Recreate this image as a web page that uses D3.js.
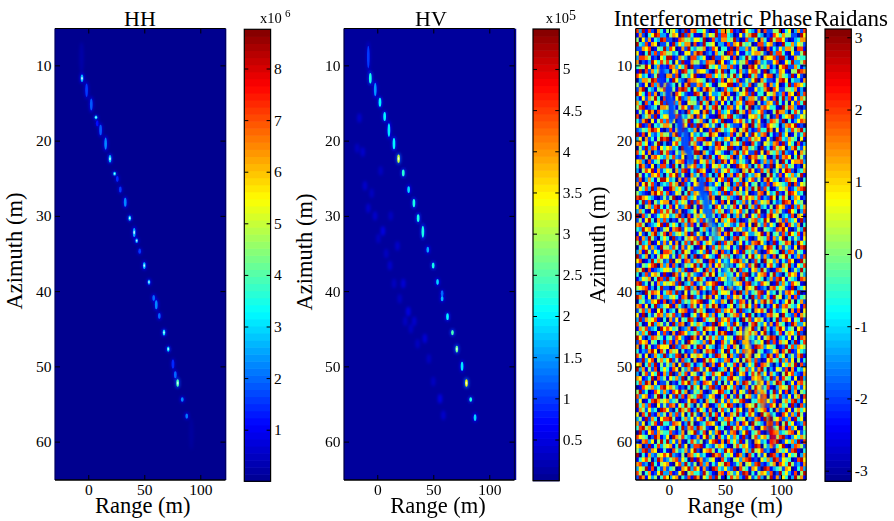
<!DOCTYPE html>
<html>
<head>
<meta charset="utf-8">
<script src="https://cdnjs.cloudflare.com/ajax/libs/d3/7.8.5/d3.min.js"></script>
<style>
html, body { margin: 0; padding: 0; background: #fff; }
text { font-family: "Liberation Serif", "Times New Roman", serif; fill: #000; }
</style>
</head>
<body>
<div id="chart"></div>
<script>
var rangeTicks = [0, 50, 100];
var azimuthTicks = [10, 20, 30, 40, 50, 60];
var rangeDomain = [-29.7, 122.5];
var azimuthDomain = [5.1, 65.1];

// HH point targets (power in x10^6, extent in m of azimuth)
var hhRange = [-6, -5.6, -1.5, 2.7, 6.9, 8, 11, 15.5, 19.4, 23.5, 25.9, 28.6, 33, 37, 41, 43.2, 45.9, 50, 54.2, 58.4, 60.7, 63.4, 67.6, 71.4, 75.6, 77.7, 79.8, 83.9, 87.9, 92];
var hhAzimuth = [9, 11.7, 13.3, 15.2, 16.9, 17.7, 18.6, 20.4, 22.4, 24.4, 25.1, 26.5, 28.2, 30.3, 32.2, 33.3, 34.7, 36.6, 38.8, 40.9, 41.8, 43.3, 45.5, 47.7, 49.7, 51.1, 52.2, 54.4, 56.6, 59];
var hhPower = [0.8, 2.7, 1.6, 1.9, 2.9, 1.2, 1.9, 2.3, 2.8, 2.9, 1.5, 1.6, 2.3, 2.8, 2.5, 2.6, 1.6, 2.7, 2.5, 2, 2.2, 2, 3, 2.9, 1.4, 2, 3.9, 2.2, 2.1, 0.5];
var hhExtent = [3, 1, 1.8, 1.6, 0.5, 0.8, 1.4, 1.6, 1, 0.5, 0.8, 0.8, 1.2, 0.7, 1.2, 0.6, 0.7, 0.9, 0.7, 0.8, 1.2, 0.8, 0.8, 0.7, 1.2, 0.9, 1, 0.6, 0.7, 3];

// HV point targets, same reading (power in x10^5)
var hvRange = [-8, -6.2, -1.8, 2.4, 6.6, 10.4, 14.9, 19, 23.2, 28, 32.7, 36.5, 40.7, 45.1, 49.9, 53.8, 57.9, 57.9, 62.7, 67.1, 71, 75.7, 79.6, 83.4, 87.3];
var hvAzimuth = [8.9, 11.7, 13.2, 14.9, 16.8, 18.6, 20.4, 22.4, 24.3, 26.5, 28.3, 30.3, 32.1, 34.5, 36.6, 38.8, 40.3, 41, 43.4, 45.5, 47.7, 50, 52.2, 54.4, 56.8];
var hvPower = [1, 2.2, 1.5, 2, 2, 1.9, 2, 3.1, 2.3, 1.8, 2.2, 2.2, 2.2, 1.6, 2.2, 1.8, 1.2, 1.7, 2, 2.4, 2.6, 1.9, 3.4, 2.2, 1.8];
var hvExtent = [3, 1.4, 1.8, 1.2, 1.2, 1.8, 1.5, 1.1, 0.9, 0.9, 1.1, 1, 1.6, 0.8, 0.8, 0.8, 0.8, 0.7, 0.9, 0.7, 0.9, 1.2, 1, 0.6, 0.9];
// the faint band left of the HV target line
var hvFaintRange = [-16, -13, -11, -8, -5, -2, 1, 5, 8, 11.3, 15, 18, 20, 23.2, 25, 27.7, 30, 33, 36, 42.5, 46, 50, 56, 59, 12, -18, 3];
var hvFaintAzimuth = [17, 21.5, 26, 29, 27, 30, 33, 32, 35, 36.6, 39, 34, 41, 39, 44, 42.7, 45, 44, 47, 46.3, 49, 52, 54.3, 56.5, 30, 21, 24];
var hvFaintPower = [0.45, 0.5, 0.45, 0.5, 0.4, 0.5, 0.4, 0.6, 0.4, 0.5, 0.4, 0.45, 0.4, 0.55, 0.4, 0.6, 0.4, 0.5, 0.4, 0.55, 0.4, 0.4, 0.6, 0.45, 0.4, 0.4, 0.35];

// phase along the target line in the interferogram (radians)
var streakRange = [-6.5, -0.6, 2.4, 9.8, 15.2, 18.8, 29.2, 33, 36.6, 41, 51.5, 54.5, 69.4, 70.5, 81, 84, 90, 92.9];
var streakAzimuth = [11.5, 13.7, 15.9, 18, 20, 22, 26.1, 28.3, 30.3, 32.3, 36.6, 38.6, 46, 47.9, 52.3, 54.6, 57.6, 59.4];
var streakPhase = [-2.1, -2, -1.9, -2, -1.9, -1.8, -1.9, -1.7, -1.4, -1.2, -0.9, -0.8, 0.9, 1, 1.1, 1.6, 2.7, 2.3];
var streakExtent = [2.6, 2.6, 3, 2.6, 3, 2.2, 2.6, 2.6, 2.4, 2.2, 2.2, 2.2, 2.2, 2.2, 2.2, 2.2, 2.2, 2.2];

// interferogram speckle: typed by hand to give the look of the texture, not read
// cell by cell from the picture. Each digit is an index into phaseLevels.
var phaseLevels = [-3, -2.4, -1.9, -1.3, -0.6, 0.1, 0.8, 1.4, 2, 2.8];
var phaseRows = [
"83918207415563029178446201937758120964317082255914603728",
"17204698331576092841107365928843016257994302186475522096",
"50627143982201875536649018327745920183360741958862013477",
"94381760225193647708129456033182769545018836720194473652",
"22768015493860172943557128604419083372651908142637750881",
"61049382875534016627980231745098261143677520938841062259",
"38875120649912753088346109227651803495214076682993017544",
"70213964858406291175523877096124635581097342268016493358",
"45596037121873648092210954637738215008962547130689227413",
"19082746533067198452766310859204417326885190342761055987",
"86341259007728045369101883647525936019472168803754291620",
"03775982414196320877654029138067481253690742215896043317",
"52160837968340517922783641056699127348025581736014928764",
"27904315682251898406317975202843760591163479086225547130",
"96418270353708642119850263347971035682914406572381760938",
"31627594080516923744038186259625148037752963180493816275",
"74083165929283710655294703816140376298805137629415062849",
"58912340776041586293361748950387264159032786441095873102",
"15269708433975120846607925183462095718346820159773048526",
"80357291466128943570826311097589432016674935028146792365",
"42790615838360275914572048639011768524936103875290413687",
"69128043577504386192917635204853221680947218654037869120",
"23547986102816590437060182975346805793128449706125385794",
"91806324755279148063424597610238157062963780412936015248",
"36072415989035726184889105243761490328576116209843754061",
"78461259030168423957215763980427563910842065378192640813",
"05293871646734092518641032786599120784530924185760379426",
"84617032958215376849907421653103794862291608547393216075",
"12950786437483260915370294186548026319785461039278604952",
"67308245195026781439165837029716835420691373825094167783",
"49721603883194052768324916574250197683048512906738451206",
"30586917246507389142976103825684320759612847035169820347",
"95142768304869251073518240396037185924376005942816473591",
"28037415996340718256043975168291547036825179634028756104",
"71695820343857092416789132640570382961450328176543908265",
"06483927511974630582207854319642806173959284013657124789",
"53210796848126504937650183472918475360127806349215986340",
"89764310252590178346231697005473219586748132960485037612",
"14928053677038465192854726318060943725183657042398716450",
"62057389414816237905197340862535816094729341508672193847",
"37410692858592701346063918475127468350296004837521964038",
"90835124676347920815746205139840372591648217965034280761",
"25169407383021584976382591607468930125783496015728346192",
"78502346919464037281519872043653248716095382640971853704",
"43967180256178926450047316985109576324861054328796102539",
"16204793580835647192630425871794120863356917045283964817",
"81739520464092315768279158346203895471026548173690425316",
"59348016272617048395814763092857036142789630291458703964",
"04862731955385172640196028473561429087513269840725316089",
"37195264088740396512463915708230681945372018654093872541",
"92470315866251847039028643195784023516946273180569413728",
"68013947523906518724751089362416897350284095637142860195",
"21546890737183025469394271685903146728590316842075931648",
"75908123466524739108640837152269508341673952018746025394",
"40382675191097264853218596043735162890426781593204867153",
"13657049829348150726974120386518730942156403728961543087",
"89240517365672903481352768910420567189342865019374286510",
"56781304922015648937086349257198234076591230784652190346",
"32095876147839206154713028946651809372458916340527863901",
"97416025833564187092425971630382675140938247195603718245",
"04523769180281935476890146327509428715063795824136950472",
"78160492356917420385163859702146037596281403169278543618",
"25837106941340678129574012983768519234076851942365071806",
"61904258737582391046296837145035782619403127856094328175",
"39275681040726154983018465927683140958267513049278615492",
"84016937525193870264753129086472963015894362718540297336",
"17582340968645023719349768501258407136925084137962450681",
"53749016282071986345826031497910356248571693024815763920",
"96203875414528631097160584732645198073426157980342615087",
"28671540393817240965437296018536902781354609281756039148",
"70495128666092387514981643027481750362198736540129483765",
"41327960851756041238205879136094263817905412367085912643",
"85160274392438907165763142985607329148056239718460352791",
"12936805746925183407019586423781460597382016854937260514",
"67048391525370629841348027196254817036491875203164759082",
"93715280464186053729852691034706195483627940316528071436",
"30582649173902748165207438569138026714859361742059683217",
"76124908351647390528946105273489653201768034927185416093",
"48397061225021486937318762940526173985240617359840261785",
"01865734896753120494605389217964820371596248103765938426",
"59240186373186947025471025698340716529083751492618037054",
"83671259040629381754892367104815294067326180574932615708",
"26014897567345012698130745926273658910447926381057489316",
"94738106252871649530526801374698203176594312860745192083",
"17526340986204975813964172058351486027935681407239615746",
"60849217351738260495207394816027593148620957341086273951",
"35192740688951047362681520943786145603278194056823719460",
"72603581944287613950134876205493271860954316728059461238",
"48957016321560492783975210634019586324710683245971836015",
"09316827544821370569248063791527803691458102967345780624",
"86540297136097584312716935084263741920583674015892136475",
"21783605949362710485350268917084639152076341859026473918",
"67029148356714926038891432576310584762198053724691038752",
"53892760141085347269206785143968201473956823107546289104",
"90417325686932150874634109782546197308415260983171645037",
"14685039723578264091972356108420563789120647398265401896",
"78230941567106839425083714265981247056389213570864952317",
"36591804272450176938617209843632908541762098134527601483",
"85047126933812690574429531078175362980415763802946318059",
"29716350486367042819706482951048573196248305917264039571"
];

var jetColor = d3.scaleLinear()
	.domain([0, 1/8, 3/8, 5/8, 7/8, 1])
	.range(["#00008f", "#0000ff", "#00ffff", "#ffff00", "#ff0000", "#800000"]);
var jetLevels = 64;

var hhBarTicks = [1, 2, 3, 4, 5, 6, 7, 8];
var hvBarTicks = [0.5, 1, 1.5, 2, 2.5, 3, 3.5, 4, 4.5, 5];
var phaseBarTicks = [-3, -2, -1, 0, 1, 2, 3];

var svg = d3.select("#chart").append("svg")
	.attr("width", 894)
	.attr("height", 521)
	.style("display", "block");

var defs = svg.append("defs");
[["blur-wide", 1.8], ["blur-core", 0.7], ["blur-pale", 0.4], ["blur-noise", 0.6], ["blur-streak", 0.8]].forEach(function(b){
	defs.append("filter").attr("id", b[0])
		.attr("x", "-50%").attr("y", "-50%").attr("width", "200%").attr("height", "200%")
		.append("feGaussianBlur").attr("stdDeviation", b[1]);
});

function colorFor(domain){
	var t = d3.scaleLinear().domain(domain).range([0, 1]).clamp(true);
	return function(v){
		var level = Math.min(jetLevels - 1, Math.floor(t(v) * jetLevels));
		return jetColor((level + 0.5) / jetLevels);
	};
}

function makePanel(opt){
	var x = d3.scaleLinear().domain(rangeDomain).range([opt.left, opt.left + 170.5]);
	var y = d3.scaleLinear().domain(azimuthDomain).range([28.5, 480]);
	var clipId = opt.id + "-clip";
	defs.append("clipPath").attr("id", clipId).append("rect")
		.attr("x", opt.left).attr("y", 28.5)
		.attr("width", 170.5 + opt.bleed).attr("height", 451.5);

	var g = svg.append("g").attr("class", opt.id);
	var image = g.append("g").attr("clip-path", "url(#" + clipId + ")");
	image.append("rect")
		.attr("x", opt.left).attr("y", 28.5)
		.attr("width", 170.5 + opt.bleed).attr("height", 451.5)
		.attr("fill", opt.background);
	return {x: x, y: y, g: g, image: image};
}

function finishPanel(p, opt){
	var g = p.g, x = p.x, y = p.y;
	var left = x.range()[0], right = x.range()[1];

	g.append("line").attr("x1", left).attr("x2", left).attr("y1", 28.5).attr("y2", 480)
		.attr("stroke", opt.side).attr("stroke-width", 1.2);
	g.append("line").attr("x1", right).attr("x2", right).attr("y1", 28.5).attr("y2", 480)
		.attr("stroke", opt.side).attr("stroke-width", 1.2);
	g.append("line").attr("x1", left).attr("x2", right).attr("y1", 28.5).attr("y2", 28.5)
		.attr("stroke", "#000").attr("stroke-width", 1.2);
	g.append("line").attr("x1", left).attr("x2", right).attr("y1", 480).attr("y2", 480)
		.attr("stroke", "#000").attr("stroke-width", 1.5);

	var axes = [
		[d3.axisBottom(x).tickValues(rangeTicks).tickSizeInner(-5).tickSizeOuter(0).tickPadding(4), 0, 480],
		[d3.axisTop(x).tickValues(rangeTicks).tickSizeInner(-5).tickSizeOuter(0).tickFormat(""), 0, 28.5],
		[d3.axisLeft(y).tickValues(azimuthTicks).tickSizeInner(-5).tickSizeOuter(0).tickPadding(3.5), left, 0],
		[d3.axisRight(y).tickValues(azimuthTicks).tickSizeInner(-5).tickSizeOuter(0).tickFormat(""), right, 0]
	];
	axes.forEach(function(a){
		var ag = g.append("g").attr("transform", "translate(" + a[1] + "," + a[2] + ")").call(a[0]);
		ag.select(".domain").remove();
		ag.selectAll("text").style("font-family", '"Liberation Serif", serif').style("font-size", "15.5px");
	});

	g.append("text").attr("x", opt.titleX).attr("y", 26).attr("text-anchor", "middle")
		.style("font-size", opt.titleSize).text(opt.title);
	g.append("text").attr("x", opt.labelX).attr("y", 513).attr("text-anchor", "middle")
		.style("font-size", "22.5px").text("Range (m)");
	g.append("text")
		.attr("transform", "translate(" + opt.azX + "," + opt.azY + ") rotate(-90)")
		.attr("text-anchor", "middle")
		.style("font-size", "22.5px").text("Azimuth (m)");
}

function makeBar(opt){
	var scale = d3.scaleLinear().domain(opt.domain).range([opt.bottom, opt.top]);
	var color = colorFor(opt.domain);
	var g = svg.append("g").attr("class", "colorbar");
	var step = (opt.domain[1] - opt.domain[0]) / jetLevels;

	g.selectAll("rect.level").data(d3.range(jetLevels)).enter().append("rect")
		.attr("class", "level")
		.attr("x", opt.left).attr("width", 26.3)
		.attr("y", function(i){ return scale(opt.domain[0] + (i + 1) * step); })
		.attr("height", function(i){ return scale(opt.domain[0] + i * step) - scale(opt.domain[0] + (i + 1) * step) + 0.6; })
		.attr("fill", function(i){ return color(opt.domain[0] + (i + 0.5) * step); });

	g.append("rect").attr("x", opt.left).attr("y", opt.top).attr("width", 26.3)
		.attr("height", opt.bottom - opt.top)
		.attr("fill", "none").attr("stroke", "#000").attr("stroke-width", 1.2);

	var right = g.append("g").attr("transform", "translate(" + (opt.left + 26.3) + ",0)")
		.call(d3.axisRight(scale).tickValues(opt.ticks).tickSizeInner(-4).tickSizeOuter(0).tickPadding(3.5).tickFormat(String));
	right.select(".domain").remove();
	right.selectAll("text").style("font-family", '"Liberation Serif", serif').style("font-size", "15.5px");

	var left = g.append("g").attr("transform", "translate(" + opt.left + ",0)")
		.call(d3.axisLeft(scale).tickValues(opt.ticks).tickSizeInner(-4).tickSizeOuter(0).tickFormat(""));
	left.select(".domain").remove();
	return color;
}

function drawTargets(p, data, color, glowScale){
	p.image.append("g").attr("filter", "url(#blur-wide)")
		.selectAll("ellipse").data(data).enter().append("ellipse")
		.attr("cx", function(d){ return p.x(d.range); })
		.attr("cy", function(d){ return p.y(d.azimuth); })
		.attr("rx", function(d){ return p.x(d.range + 2) - p.x(d.range); })
		.attr("ry", function(d){ return p.y(d.azimuth + d.extent * 0.7) - p.y(d.azimuth); })
		.attr("fill", function(d){ return color(d.power * glowScale); })
		.attr("opacity", 0.8);
	p.image.append("g").attr("filter", "url(#blur-core)")
		.selectAll("ellipse").data(data.filter(function(d){ return d.power >= 1; })).enter().append("ellipse")
		.attr("cx", function(d){ return p.x(d.range); })
		.attr("cy", function(d){ return p.y(d.azimuth); })
		.attr("rx", function(d){ return p.x(d.range + 1.2) - p.x(d.range); })
		.attr("ry", function(d){ return p.y(d.azimuth + d.extent * 0.5) - p.y(d.azimuth); })
		.attr("fill", function(d){ return color(d.power); });
	// the brightest returns wash out to a pale centre in the picture
	p.image.append("g").attr("filter", "url(#blur-pale)")
		.selectAll("ellipse").data(data.filter(function(d){ return d.power >= 2.5; })).enter().append("ellipse")
		.attr("cx", function(d){ return p.x(d.range); })
		.attr("cy", function(d){ return p.y(d.azimuth); })
		.attr("rx", function(d){ return p.x(d.range + 0.7) - p.x(d.range); })
		.attr("ry", function(d){ return p.y(d.azimuth + d.extent * 0.2) - p.y(d.azimuth); })
		.attr("fill", "#e8ffff")
		.attr("opacity", 0.8);
}

function zipTargets(ranges, azimuths, powers, extents){
	return ranges.map(function(r, i){
		return {range: r, azimuth: azimuths[i], power: powers[i], extent: extents ? extents[i] : 0.9};
	});
}

// HH
var hhOpt = {id: "hh", left: 55, bleed: 1, background: "#00008f", side: "#000060", title: "HH", titleSize: "22px", titleX: 140, labelX: 142.7, azX: 22, azY: 251};
var hhPanel = makePanel(hhOpt);
var hhColor = makeBar({left: 244.3, top: 29.3, bottom: 481.3, domain: [0, 8.76], ticks: hhBarTicks});
drawTargets(hhPanel, zipTargets(hhRange, hhAzimuth, hhPower, hhExtent), hhColor, 0.45);
finishPanel(hhPanel, hhOpt);

// HV
var hvOpt = {id: "hv", left: 344, bleed: 2, background: "#00009c", side: "#000040", title: "HV", titleSize: "22px", titleX: 431, labelX: 438, azX: 312, azY: 252};
var hvPanel = makePanel(hvOpt);
var hvColor = makeBar({left: 533, top: 29, bottom: 480.7, domain: [0, 5.485], ticks: hvBarTicks});
drawTargets(hvPanel, zipTargets(hvFaintRange, hvFaintAzimuth, hvFaintPower, null), hvColor, 1);
drawTargets(hvPanel, zipTargets(hvRange, hvAzimuth, hvPower, hvExtent), hvColor, 0.4);
finishPanel(hvPanel, hvOpt);

// interferometric phase
var phaseOpt = {id: "phase", left: 635.7, bleed: 0, background: "#5a6a80", side: "#000", title: "Interferometric Phase", titleSize: "23px", titleX: 713, labelX: 735, azX: 605, azY: 245};
var phasePanel = makePanel(phaseOpt);
var phaseColor = makeBar({left: 825, top: 29, bottom: 481.3, domain: [-3.147, 3.115], ticks: phaseBarTicks});

var cellRange = (rangeDomain[1] - rangeDomain[0]) / 56;
var cellAzimuth = (azimuthDomain[1] - azimuthDomain[0]) / phaseRows.length;
var cells = [];
phaseRows.forEach(function(row, r){
	row.split("").forEach(function(ch, c){
		cells.push({r: r, c: c, phase: phaseLevels[+ch]});
	});
});
phasePanel.image.append("g").attr("filter", "url(#blur-noise)")
	.selectAll("rect").data(cells).enter().append("rect")
	.attr("x", function(d){ return phasePanel.x(rangeDomain[0] + d.c * cellRange); })
	.attr("y", function(d){ return phasePanel.y(azimuthDomain[0] + d.r * cellAzimuth); })
	.attr("width", phasePanel.x(rangeDomain[0] + cellRange) - phasePanel.x(rangeDomain[0]) + 0.3)
	.attr("height", phasePanel.y(azimuthDomain[0] + cellAzimuth) - phasePanel.y(azimuthDomain[0]) + 0.3)
	.attr("fill", function(d){ return phaseColor(d.phase); });

phasePanel.image.append("g").attr("filter", "url(#blur-streak)")
	.selectAll("ellipse").data(streakRange.map(function(r, i){
		return {range: r, azimuth: streakAzimuth[i], phase: streakPhase[i], extent: streakExtent[i]};
	})).enter().append("ellipse")
	.attr("cx", function(d){ return phasePanel.x(d.range); })
	.attr("cy", function(d){ return phasePanel.y(d.azimuth); })
	.attr("rx", function(d){ return phasePanel.x(d.range + 2.8) - phasePanel.x(d.range); })
	.attr("ry", function(d){ return phasePanel.y(d.azimuth + d.extent * 0.6) - phasePanel.y(d.azimuth); })
	.attr("fill", function(d){ return phaseColor(d.phase); })
	.attr("opacity", function(d){ return d.phase < -1.5 ? 1 : 0.75; });
finishPanel(phasePanel, phaseOpt);

svg.append("text").attr("x", 851).attr("y", 26).attr("text-anchor", "middle")
	.style("font-size", "23px").text("Raidans");

// colorbar multipliers
svg.append("text").attr("x", 260).attr("y", 23).style("font-size", "14.5px").text("x10");
svg.append("text").attr("x", 285).attr("y", 17).style("font-size", "11px").text("6");

svg.append("text").attr("x", 545.7).attr("y", 23).style("font-size", "14.5px").style("word-spacing", "-2px").text("x 10");
svg.append("text").attr("x", 569).attr("y", 20).style("font-size", "14px").text("5");
</script>
</body>
</html>
